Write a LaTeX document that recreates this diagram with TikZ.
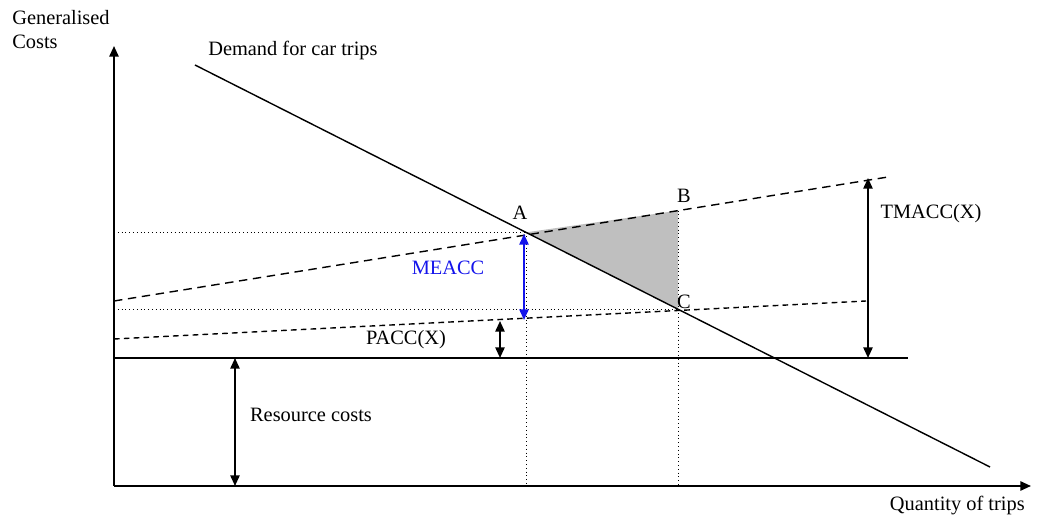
\documentclass[tikz,border=0pt]{standalone}
\usepackage{fontspec}
\setmainfont{Liberation Serif}
\usepackage{xcolor}
\usepackage{tikz}
\usetikzlibrary{arrows.meta,positioning,calc}
\tikzset{
    eixo/.style={-{Triangle[length=7.5pt,width=6.5pt]}, line width=1.4pt},
    demanda/.style={line width=1pt},
    custo/.style={dashed, dash pattern=on 6pt off 4pt, line width=1pt},
    privado/.style={dashed, dash pattern=on 4pt off 3pt, line width=1pt},
    guia/.style={dotted, line width=0.7pt},
    medida/.style={{Triangle[length=7.5pt,width=6.5pt]}-{Triangle[length=7.5pt,width=6.5pt]}, line width=1.3pt},
    rotulo/.style={inner sep=0pt, font=\fontsize{14.5}{17}\selectfont}
}
\definecolor{sombra}{gray}{0.75}
\definecolor{azulme}{RGB}{20,20,235}

\begin{document}
\begin{tikzpicture}[x=0.025cm, y=-0.025cm]
        \useasboundingbox (0,0) rectangle (1040,517);
        % eixos
        \coordinate (origem) at (114,486);
        \coordinate (topoY) at (114,46);
        \coordinate (fimX) at (1031,486);
        % retas
        \coordinate (demIni) at (195,65);
        \coordinate (demFim) at (990,467);
        \coordinate (tmIni) at (114,301);
        \coordinate (tmFim) at (888,177);
        \coordinate (paIni) at (114,339);
        \coordinate (paFim) at (866,301);
        \coordinate (recIni) at (114,358);
        \coordinate (recFim) at (908,358);
        % pontos
        \coordinate (A) at ($(demIni)!0.41635!(demFim)$);
        \coordinate (C) at ($(demIni)!0.60755!(demFim)$);
        \coordinate (B) at ($(tmIni)!0.72868!(tmFim)$);

        \fill[sombra] (A) -- (B) -- (C) -- cycle;

        \draw[guia] (A -| origem) -- (A);
        \draw[guia] (C -| origem) -- (C);
        \draw[guia] (A) -- (A |- origem);
        \draw[guia] (B) -- (B |- origem);

        \draw[demanda] (demIni) -- (demFim);
        \draw[custo] (tmIni) -- (tmFim);
        \draw[privado] (paIni) -- (paFim);
        \draw[line width=1.4pt] (recIni) -- (recFim);

        \draw[eixo] (origem) -- (topoY);
        \draw[eixo] (origem) -- (fimX);

        % setas de medida
        \coordinate (meTopo) at (524,234);
        \coordinate (meBase) at (524,320);
        \coordinate (paTopo) at (500,321);
        \coordinate (paBase) at (500,358);
        \coordinate (tmTopo) at (868,178);
        \coordinate (tmBase) at (868,358);
        \coordinate (reTopo) at (235,358);
        \coordinate (reBase) at (235,486);
        \draw[medida, azulme] (meTopo) -- (meBase);
        \draw[medida] (paTopo) -- (paBase);
        \draw[medida] (tmTopo) -- (tmBase);
        \draw[medida] (reTopo) -- (reBase);

        % textos
        \node[rotulo, anchor=north west, align=left] (eixoY) at (12,10) {Generalised\\Costs};
        \node[rotulo, anchor=west] (demTxt) at (208,50) {Demand for car trips};
        \node[rotulo, anchor=east] (eixoX) at (1025,506) {Quantity of trips};
        \node[rotulo] (rotA) at (520,213) {A};
        \node[rotulo] (rotB) at (684,196) {B};
        \node[rotulo] (rotC) at (684,302) {C};
        \node[rotulo, text=azulme] (meTxt) at (448,268) {MEACC};
        \node[rotulo] (paTxt) at (406,340) {PACC(X)};
        \node[rotulo] (tmTxt) at (931,214) {TMACC(X)};
        \node[rotulo] (reTxt) at (311,415) {Resource costs};
    \end{tikzpicture}
\end{document}
